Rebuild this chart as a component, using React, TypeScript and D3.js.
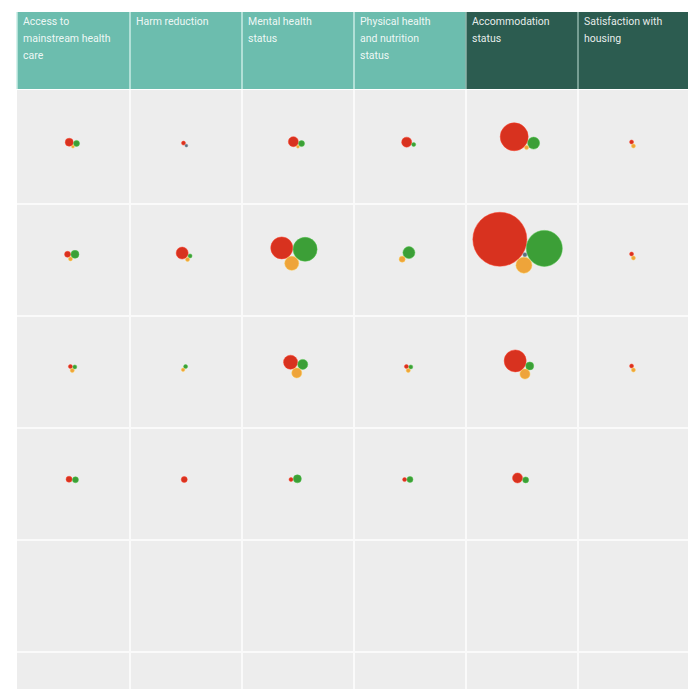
import { useMemo } from 'react';
import * as d3 from 'd3';

// Column headers (outcome areas)
const CATEGORIES = [
  'Access to mainstream health care',
  'Harm reduction',
  'Mental health status',
  'Physical health and nutrition status',
  'Accommodation status',
  'Satisfaction with housing',
];
const HEADER_LINES = [
  ['Access to', 'mainstream health', 'care'],
  ['Harm reduction'],
  ['Mental health', 'status'],
  ['Physical health', 'and nutrition', 'status'],
  ['Accommodation', 'status'],
  ['Satisfaction with', 'housing'],
];
const DARK_HEADERS = ['Accommodation status', 'Satisfaction with housing'];

// Rows (last two are empty)
const ROWS = ['r1', 'r2', 'r3', 'r4', 'r5', 'r6'];

// Series values per row, one entry per category (estimated)
const SERIES = ['worse', 'better', 'mixed', 'unclear'];
const WORSE = [
  [16, 4, 25, 25, 196, 4],
  [9, 36, 121, 0, 729, 4],
  [4, 0, 49, 4, 121, 4],
  [9, 9, 4, 4, 25, 0],
];
const BETTER = [
  [9, 0, 9, 4, 36, 0],
  [16, 4, 144, 36, 324, 0],
  [4, 4, 25, 4, 16, 0],
  [9, 0, 16, 9, 9, 0],
];
const MIXED = [
  [2, 0, 2, 0, 4, 4],
  [4, 4, 49, 9, 64, 4],
  [4, 3, 25, 4, 25, 4],
  [0, 0, 0, 0, 0, 0],
];
const UNCLEAR = [
  [0, 2, 0, 0, 0, 0],
  [0, 0, 0, 0, 4, 0],
  [0, 0, 0, 0, 0, 0],
  [0, 0, 0, 0, 0, 0],
];
const SERIES_VALUES = [WORSE, BETTER, MIXED, UNCLEAR];

const COLORS: Record<string, string> = {
  worse: '#d8321f',
  better: '#3c9f37',
  mixed: '#eea43a',
  unclear: '#5f6f7c',
};
// starting direction of each series around the cell anchor
const ANGLES: Record<string, number> = {
  worse: -145,
  better: -25,
  mixed: 95,
  unclear: 50,
};

const W = 688;
const H = 689;

interface Node {
  key: string;
  r: number;
  x: number;
  y: number;
}

export default function App() {
  const x = d3.scaleBand<string>().domain(CATEGORIES).range([18, 690]);
  const y = d3.scaleBand<string>().domain(ROWS).range([92, 92 + 6 * 112]);
  const rScale = d3.scaleSqrt().domain([0, 729]).range([0, 27]);

  const nodes = useMemo(() => {
    const out: (Node & { cell: string })[] = [];
    ROWS.forEach((row, ri) => {
      CATEGORIES.forEach((cat, ci) => {
        const cell: Node[] = [];
        const radii = SERIES.map((_, si) => rScale(SERIES_VALUES[si][ri]?.[ci] ?? 0));
        const maxR = d3.max(radii) || 0;
        // bigger clusters sit a little up and left of the cell centre
        const ax = (x(cat) || 0) + x.bandwidth() / 2 - 1 - 0.25 * maxR;
        const ay = (y(row) || 0) + y.bandwidth() / 2 - 3 - 0.5 * maxR;
        SERIES.forEach((s, si) => {
          const r = radii[si];
          if (!r) return;
          const a = (ANGLES[s] * Math.PI) / 180;
          cell.push({ key: s, r, x: ax + Math.cos(a) * r, y: ay + Math.sin(a) * r });
        });
        if (!cell.length) return;
        const sim = d3
          .forceSimulation(cell as any)
          .force('x', d3.forceX(ax).strength(0.15))
          .force('y', d3.forceY(ay).strength(0.15))
          .force('collide', d3.forceCollide((d: any) => d.r + 0.2).iterations(4))
          .stop();
        sim.tick(300);
        cell.forEach((n) => out.push({ ...n, cell: `${row}-${cat}` }));
      });
    });
    return out;
  }, []);

  return (
    <svg
      width={W}
      height={H}
      style={{ position: 'absolute', left: 0, top: 0, background: '#fff' }}
      fontFamily="Roboto, 'Noto Sans', sans-serif"
    >
      {/* body background */}
      <rect x={17} y={90} width={W - 17} height={H - 90} fill="#ededed" />

      {/* grid lines */}
      {ROWS.slice(1).map((r) => (
        <line
          key={r}
          x1={17}
          x2={W}
          y1={y(r)}
          y2={y(r)}
          stroke="#fafafa"
          strokeWidth={2}
        />
      ))}
      {CATEGORIES.slice(1).map((c) => (
        <line
          key={c}
          x1={x(c)}
          x2={x(c)}
          y1={90}
          y2={H}
          stroke="#fafafa"
          strokeWidth={2}
        />
      ))}

      {/* header */}
      {CATEGORIES.map((c, i) => {
        const dark = DARK_HEADERS.includes(c);
        const x0 = i === 0 ? 17 : x(c) || 0;
        return (
          <g key={c}>
            <rect
              x={x0}
              y={12}
              width={i === 0 ? x.bandwidth() + 1 : x.bandwidth()}
              height={77}
              fill={dark ? '#2c5c50' : '#6cbdae'}
            />
            {i > 0 && (
              <line
                x1={x0}
                x2={x0}
                y1={12}
                y2={89}
                stroke={dark ? '#8fb5aa' : '#c8ece4'}
                strokeWidth={1.5}
              />
            )}
            <text
              x={x0 + 6}
              y={25}
              fill="#ffffff"
              fillOpacity={0.9}
              fontSize={10.5}
            >
              {HEADER_LINES[i].map((line, li) => (
                <tspan key={li} x={x0 + 6} dy={li === 0 ? 0 : 17}>
                  {line}
                </tspan>
              ))}
            </text>
          </g>
        );
      })}
      <line x1={17} x2={17} y1={12} y2={89} stroke="#c8ece4" strokeWidth={1.5} />

      {/* bubbles */}
      {nodes.map((n, i) => (
        <circle
          key={i}
          cx={n.x}
          cy={n.y}
          r={n.r}
          fill={COLORS[n.key]}
          stroke={d3.color(COLORS[n.key])!.brighter(0.6).formatHex()}
          strokeOpacity={0.6}
          strokeWidth={0.8}
        />
      ))}
    </svg>
  );
}
